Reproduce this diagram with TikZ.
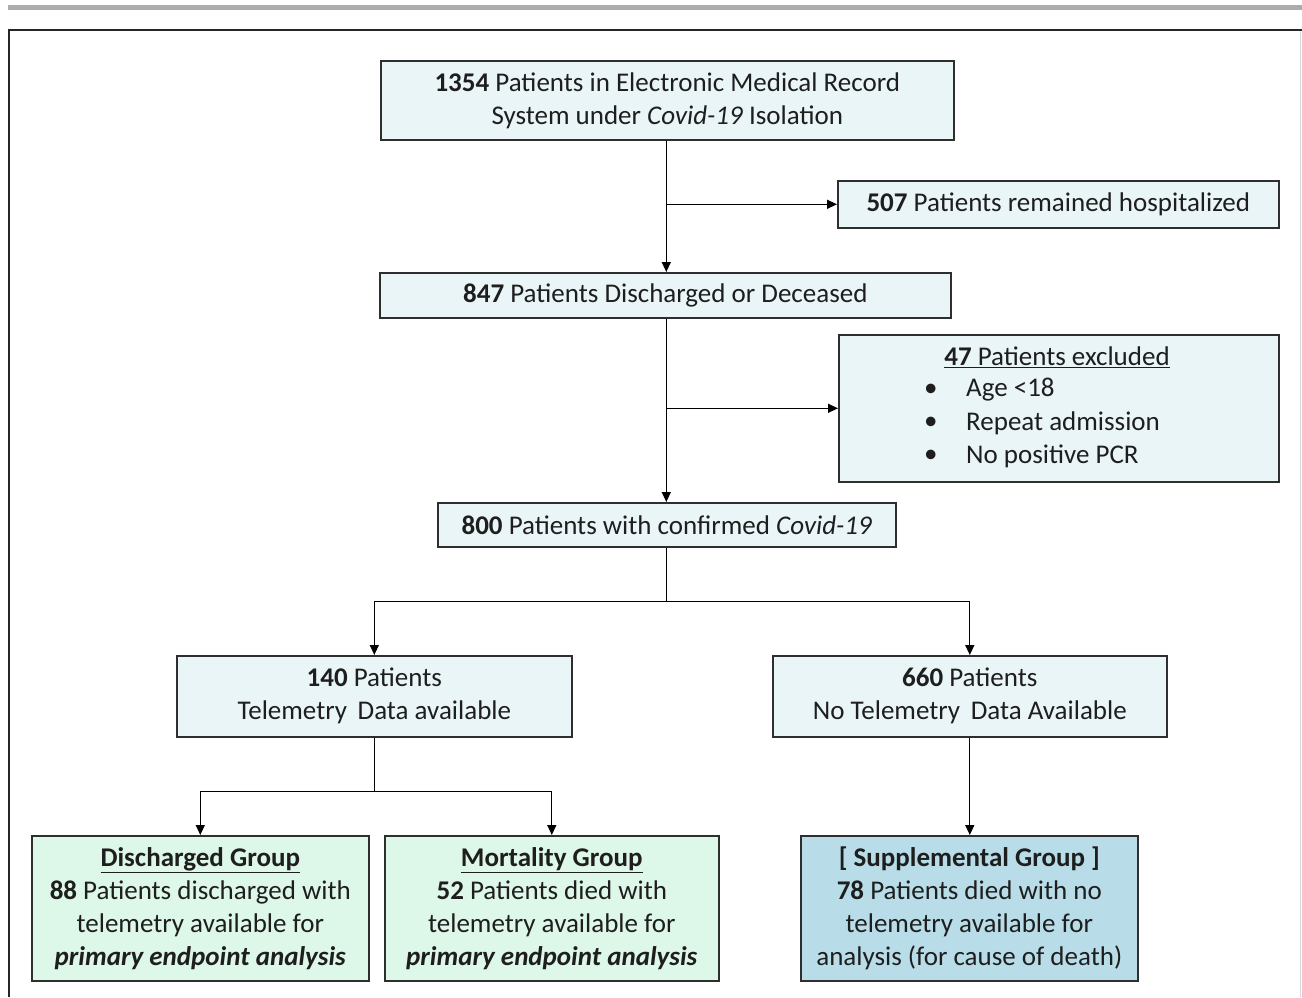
\documentclass[tikz,border=0pt]{standalone}
\usepackage{fontspec}
\setmainfont{Carlito}
\usetikzlibrary{arrows.meta,calc}
\definecolor{boxcyan}{HTML}{EAF5F8}
\definecolor{boxgreen}{HTML}{DDF7E9}
\definecolor{boxblue}{HTML}{B8DDE8}
\definecolor{bordgray}{HTML}{2E2E2E}
\definecolor{txtc}{HTML}{1E1E1E}
\tikzset{
  box/.style={draw=bordgray,line width=1.6pt,fill=boxcyan,anchor=north west,inner sep=0pt,align=center,
    font=\fontsize{27}{33}\selectfont,text=txtc},
  arr/.style={line width=1.3pt,-{Triangle[length=10pt,width=9pt]}},
  ln/.style={line width=1.3pt},
  txt/.style={font=\fontsize{27}{33}\selectfont,inner sep=0pt,text=txtc}
}
\begin{document}
\begin{tikzpicture}[x=1pt,y=-1pt]
\useasboundingbox (0,0) rectangle (1302,997);
% page decorations
\fill[gray!65] (8,5) rectangle (1302,10);
\draw[black!85,line width=2pt] (9,997) -- (9,30) -- (1302,30);
\draw[black!15,line width=1pt] (1300,31) -- (1300,997);

\node[box,minimum width=573pt,minimum height=79pt] (b1) at (380,60)
  {\textbf{1354} Patients in Electronic Medical Record\\System under \textit{Covid-19} Isolation};
\node[box,minimum width=441pt,minimum height=47pt] (hosp) at (837,180)
  {\textbf{507} Patients remained hospitalized};
\node[box,minimum width=571pt,minimum height=45pt] (b2) at (379,272)
  {\textbf{847} Patients Discharged or Deceased};
\node[box,minimum width=440pt,minimum height=147pt] (excl) at (838,334) {};
\node[txt] (exT) at (1057,357) {\underline{\textbf{47} Patients excluded}};
\node[txt,anchor=west] (e1b) at (924,390) {\textbullet};
\node[txt,anchor=west] (e1) at (966,390) {Age <18};
\node[txt,anchor=west] (e2b) at (924,423) {\textbullet};
\node[txt,anchor=west] (e2) at (966,423) {Repeat admission};
\node[txt,anchor=west] (e3b) at (924,456) {\textbullet};
\node[txt,anchor=west] (e3) at (966,456) {No positive PCR};
\node[box,minimum width=458pt,minimum height=44pt] (b3) at (437,502)
  {\textbf{800} Patients with confirmed \textit{Covid-19}};
\node[box,minimum width=395pt,minimum height=81pt] (b4) at (176,655)
  {\textbf{140} Patients\\Telemetry\, Data available};
\node[box,minimum width=394pt,minimum height=81pt] (b5) at (772,655)
  {\textbf{660} Patients\\No Telemetry\, Data Available};
\node[box,fill=boxgreen,minimum width=337pt,minimum height=145pt] (b6) at (31,835)
  {\underline{\textbf{Discharged Group}}\\\textbf{88} Patients discharged with\\telemetry available for\\\textbf{\textit{primary endpoint analysis}}};
\node[box,fill=boxgreen,minimum width=334pt,minimum height=145pt] (b7) at (384,835)
  {\underline{\textbf{Mortality Group}}\\\textbf{52} Patients died with\\telemetry available for\\\textbf{\textit{primary endpoint analysis}}};
\node[box,fill=boxblue,minimum width=337pt,minimum height=145pt] (b8) at (800,835)
  {\textbf{[ Supplemental Group ]}\\\textbf{78} Patients died with no\\telemetry available for\\analysis (for cause of death)};

% connectors
\coordinate (c1) at ($(b1.south)+(-1,0)$);
\draw[arr] (c1) -- (c1 |- b2.north);
\draw[arr] (c1 |- hosp.west) -- (hosp.west);
\draw[arr] (c1 |- b2.south) -- (c1 |- b3.north);
\draw[arr] (c1 |- excl.west) -- (excl.west);
\coordinate (s1) at ($(b3.south)+(0,54)$);
\draw[ln] (b3.south) -- (s1);
\draw[arr] (s1) -| (b4.north);
\draw[arr] (s1) -| (b5.north);
\coordinate (s2) at ($(b4.south)+(0,54)$);
\draw[ln] (b4.south) -- (s2);
\draw[arr] (s2) -| (b6.north);
\draw[arr] (s2) -| (b7.north);
\draw[arr] (b5.south) -- (b5.south |- b8.north);
\end{tikzpicture}
\end{document}
